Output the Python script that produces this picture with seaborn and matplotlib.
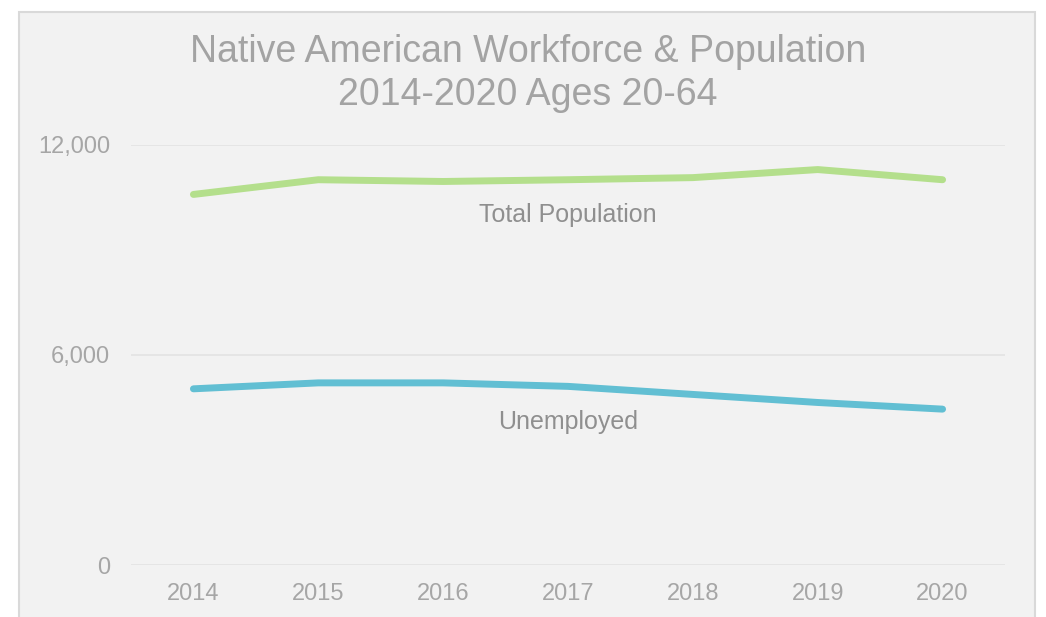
import matplotlib
matplotlib.use("Agg")
import matplotlib.pyplot as plt
from matplotlib.patches import Rectangle
import seaborn as sns
import pandas as pd

years = ["2014", "2015", "2016", "2017", "2018", "2019", "2020"]
total_population = [10580, 11000, 10950, 11000, 11060, 11290, 11000]
unemployed = [5030, 5200, 5200, 5100, 4870, 4640, 4450]
series_names = ["Total Population", "Unemployed"]
yticks = [0, 6000, 12000]

df = pd.DataFrame({
    "year": years * 2,
    "value": total_population + unemployed,
    "series": [series_names[0]] * len(years) + [series_names[1]] * len(years),
})

sns.set_style("white")
plt.rcParams["font.family"] = ["Liberation Sans", "DejaVu Sans"]

W, H = 1046, 617
fig = plt.figure(figsize=(W / 100, H / 100), dpi=100, facecolor="white")
bg = Rectangle((19 / W, -0.05), (1035 - 19) / W, 1.05 - 12 / H,
               transform=fig.transFigure, facecolor="#f2f2f2",
               edgecolor="#d9d9d9", linewidth=1.5, zorder=-10)
fig.patches.append(bg)

ax = fig.add_axes([131 / W, 1 - 565 / H, (1005 - 131) / W, (565 - 144.7) / H])
ax.set_facecolor("none")
ax.set_zorder(5)

palette = {"Total Population": "#b4df8c", "Unemployed": "#62bfd3"}
sns.lineplot(data=df, x="year", y="value", hue="series", palette=palette,
             linewidth=5, legend=False, ax=ax, sort=False,
             solid_capstyle="round")

ax.set_xlim(-0.5, len(years) - 0.5)
ax.set_ylim(0, 12000)
ax.set_yticks(yticks)
ax.set_yticklabels([f"{v:,}" for v in yticks])
ax.grid(axis="y", color="#e4e4e4", linewidth=1.3)
ax.set_axisbelow(True)
for s in ax.spines.values():
    s.set_visible(False)
ax.tick_params(axis="both", length=0, labelsize=17, labelcolor="#a6a6a6")
ax.tick_params(axis="y", pad=15)
ax.tick_params(axis="x", pad=13)
ax.set_xlabel("")
ax.set_ylabel("")

# Series labels
ax.text(3, 11000 - 1010, "Total Population", ha="center", va="center",
        fontsize=18, color="#8f8f8f")
ax.text(3, 5100 - 1020, "Unemployed", ha="center", va="center",
        fontsize=18, color="#8f8f8f")

fig.text(528 / W, 1 - 52 / H, "Native American Workforce & Population",
         ha="center", va="center", fontsize=27, color="#a3a3a3")
fig.text(528 / W, 1 - 95 / H, "2014-2020 Ages 20-64",
         ha="center", va="center", fontsize=27, color="#a3a3a3")

fig.savefig("out.png", dpi=100, facecolor="white")
